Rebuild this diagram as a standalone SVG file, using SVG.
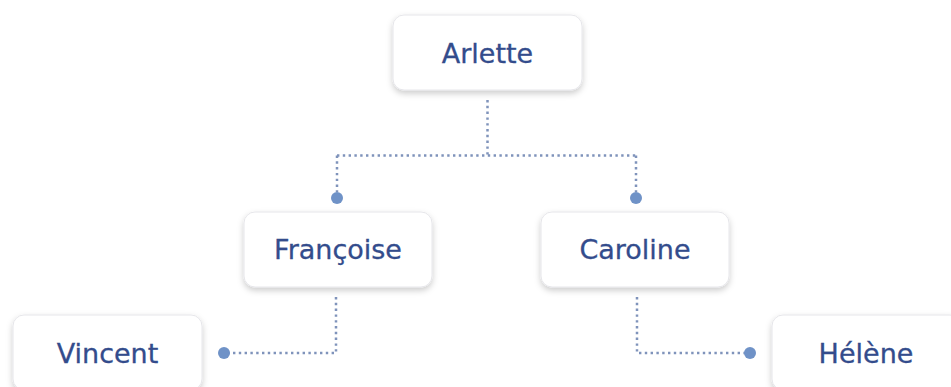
<svg xmlns="http://www.w3.org/2000/svg" width="951" height="387" viewBox="0 0 951 387">
<defs>
<filter id="sh" x="-20%" y="-30%" width="140%" height="170%">
<feDropShadow dx="0" dy="3" stdDeviation="3" flood-color="#000" flood-opacity="0.2"/>
</filter>
<style>
.box{fill:#ffffff;stroke:#e6e6ea;stroke-width:1;filter:url(#sh)}
.lbl{font-family:"DejaVu Sans","Liberation Sans",sans-serif;font-size:27px;fill:#334c8c;text-anchor:middle;stroke:#334c8c;stroke-width:0.3}
.ln{fill:none;stroke:#7f93bb;stroke-width:2.5;stroke-dasharray:2.4 3.4}
.dot{fill:#6f92c7}
</style>
</defs>
<rect width="951" height="387" fill="#ffffff"/>
<g id="connectors">
<path class="ln" d="M487.5,100 V155.5 M337,155.5 H636 M337,155.5 V192 M636,155.5 V192"/>
<circle class="dot" cx="337" cy="198" r="6"/>
<circle class="dot" cx="636" cy="198" r="6"/>
<path class="ln" d="M336,297 V353 H229"/>
<circle class="dot" cx="224" cy="353" r="6"/>
<path class="ln" d="M637,297 V353 H745"/>
<circle class="dot" cx="750" cy="353" r="6"/>
</g>
<g id="arlette">
<rect class="box" x="393" y="15" width="189" height="75" rx="11"/>
<text class="lbl" x="487.5" y="63">Arlette</text>
</g>
<g id="francoise">
<rect class="box" x="244" y="212" width="188" height="75" rx="11"/>
<text class="lbl" x="338" y="259">Françoise</text>
</g>
<g id="caroline">
<rect class="box" x="541" y="212" width="188" height="75" rx="11"/>
<text class="lbl" x="635" y="259">Caroline</text>
</g>
<g id="vincent">
<rect class="box" x="13" y="315" width="189" height="75" rx="11"/>
<text class="lbl" x="107.5" y="363">Vincent</text>
</g>
<g id="helene">
<rect class="box" x="772" y="315" width="189" height="75" rx="11"/>
<text class="lbl" x="866" y="363">Hélène</text>
</g>
</svg>
